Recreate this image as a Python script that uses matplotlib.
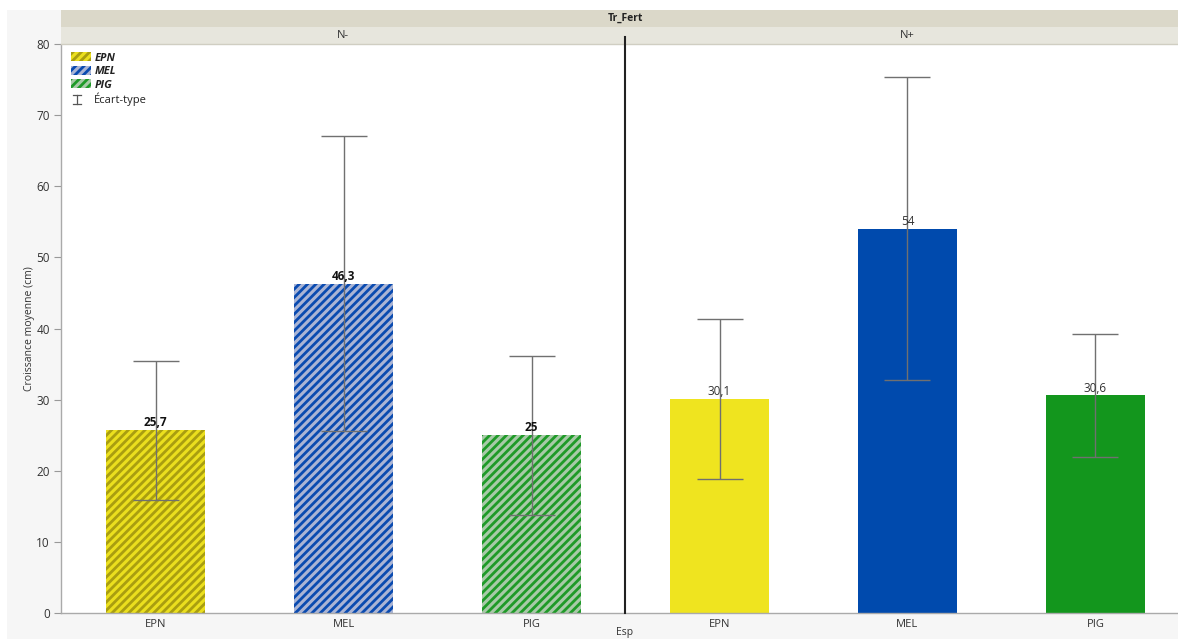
import numpy as np
import matplotlib.pyplot as plt
from matplotlib.patches import Patch, Rectangle
from matplotlib.lines import Line2D
from matplotlib.legend_handler import HandlerBase

# moyennes et écarts-types de croissance par espèce et niveau de fertilisation
especes = ['EPN', 'MEL', 'PIG']
traitements = ['N-', 'N+']
moy_nmoins = [25.7, 46.3, 25.0]
moy_nplus = [30.1, 54.0, 30.6]
et_nmoins = [9.8, 20.7, 11.2]
et_nplus = [11.2, 21.3, 8.6]
etiq_nmoins = ['25,7', '46,3', '25']
etiq_nplus = ['30,1', '54', '30,6']

couleurs = ['#efe41f', '#004aad', '#13961d']
fond_hachure = ['#ebdf1e', '#aab4d4', '#a8caa8']
traits_hachure = ['#a99e10', '#0a4bb0', '#1f9a28']

plt.rcParams['font.family'] = ['Open Sans', 'DejaVu Sans']
plt.rcParams['hatch.linewidth'] = 2.0

W, H = 1178, 639
fig = plt.figure(figsize=(W / 100, H / 100), dpi=100, facecolor='white')

def fx(px):
    return px / W

def fy(py):
    return 1 - py / H

# fond gris clair du cadre
fig.patches.append(Rectangle((fx(7), 0), 1 - fx(7), fy(10), transform=fig.transFigure,
                             facecolor='#f6f6f6', edgecolor='none', zorder=-5))

ax = fig.add_axes([fx(61), fy(613), 1 - fx(61), fy(44) - fy(613)])
ax.set_facecolor('white')

x_moins = np.arange(3)
x_plus = np.arange(3) + 3
largeur = 0.527

for i in range(3):
    ax.bar(x_moins[i], moy_nmoins[i], largeur, facecolor=fond_hachure[i],
           edgecolor=traits_hachure[i], hatch='////', linewidth=0, zorder=2)
    ax.bar(x_plus[i], moy_nplus[i], largeur, color=couleurs[i], linewidth=0, zorder=2)

ax.errorbar(x_moins, moy_nmoins, yerr=et_nmoins, fmt='none', ecolor='#707070',
            elinewidth=1, capsize=16.5, capthick=1, zorder=3)
ax.errorbar(x_plus, moy_nplus, yerr=et_nplus, fmt='none', ecolor='#707070',
            elinewidth=1, capsize=16.5, capthick=1, zorder=3)

for xi, v, t in zip(x_moins, moy_nmoins, etiq_nmoins):
    ax.text(xi, v + 0.1, t, ha='center', va='bottom', fontsize=8.5, fontweight='bold',
            color='#111111', zorder=4)
for xi, v, t in zip(x_plus, moy_nplus, etiq_nplus):
    ax.text(xi, v + 0.1, t, ha='center', va='bottom', fontsize=8.5, color='#333333', zorder=4)

ax.set_xlim(-0.503, 5.439)
ax.set_ylim(0, 80)
ax.set_yticks(np.arange(0, 81, 10))
ax.set_xticks(np.concatenate([x_moins, x_plus]))
ax.set_xticklabels(especes * 2)
ax.tick_params(axis='y', length=5, color='#999999', labelsize=8.5, labelcolor='#333333', pad=3)
ax.tick_params(axis='x', length=0, labelsize=8, labelcolor='#333333', pad=4)
for s in ['top', 'right']:
    ax.spines[s].set_visible(False)
for s in ['left', 'bottom']:
    ax.spines[s].set_color('#aaaaaa')
    ax.spines[s].set_linewidth(1)

ax.set_ylabel('Croissance moyenne (cm)', fontsize=7.5, color='#333333', labelpad=1)
fig.text(fx(625), fy(633), 'Esp', ha='center', va='center', fontsize=7.5, color='#333333')

# bandeaux d'en-tête
fig.patches.append(Rectangle((fx(61), fy(27)), 1 - fx(61), fy(10) - fy(27), transform=fig.transFigure,
                             facecolor='#dbd8c9', edgecolor='none'))
fig.patches.append(Rectangle((fx(61), fy(44)), 1 - fx(61), fy(27) - fy(44), transform=fig.transFigure,
                             facecolor='#e7e6dd', edgecolor='none'))
fig.lines.append(Line2D([fx(61), 1], [fy(44), fy(44)], transform=fig.transFigure,
                        color='#d0cec2', lw=1))
fig.text(fx(625), fy(18.5), 'Tr_Fert', ha='center', va='center', fontsize=7.5,
         fontweight='bold', color='#222222')
fig.text(fx(343), fy(35.5), traitements[0], ha='center', va='center', fontsize=8, color='#333333')
fig.text(fx(907), fy(35.5), traitements[1], ha='center', va='center', fontsize=8, color='#333333')
fig.lines.append(Line2D([fx(625), fx(625)], [fy(613), fy(37)], transform=fig.transFigure,
                        color='#222222', lw=1.5))


class HandlerEcart(HandlerBase):
    def create_artists(self, legend, orig_handle, xdescent, ydescent, width, height,
                       fontsize, trans):
        cx = width * 0.3
        w = height * 0.5
        lignes = [
            Line2D([cx, cx], [-height * 0.1, height * 1.0], color='#555555', lw=0.9),
            Line2D([cx - w, cx + w], [height * 1.0, height * 1.0], color='#555555', lw=0.9),
            Line2D([cx - w, cx + w], [-height * 0.1, -height * 0.1], color='#555555', lw=0.9),
        ]
        for l in lignes:
            l.set_transform(trans)
        return lignes


poignees = [Patch(facecolor=fond_hachure[i], edgecolor=traits_hachure[i], hatch='////', linewidth=0)
            for i in range(3)]
poignees.append(Line2D([], []))
leg = ax.legend(poignees, especes + ['Écart-type'], loc='upper left',
                bbox_to_anchor=(0.003, 0.997), frameon=False, fontsize=8,
                handlelength=1.8, handleheight=0.85, handletextpad=0.3, labelspacing=0.2,
                borderaxespad=0.2, handler_map={Line2D: HandlerEcart()})
for t in leg.get_texts()[:3]:
    t.set_fontweight('bold')
    t.set_fontstyle('italic')
for t in leg.get_texts():
    t.set_color('#222222')

fig.savefig('out.png', dpi=100, facecolor=fig.get_facecolor())
